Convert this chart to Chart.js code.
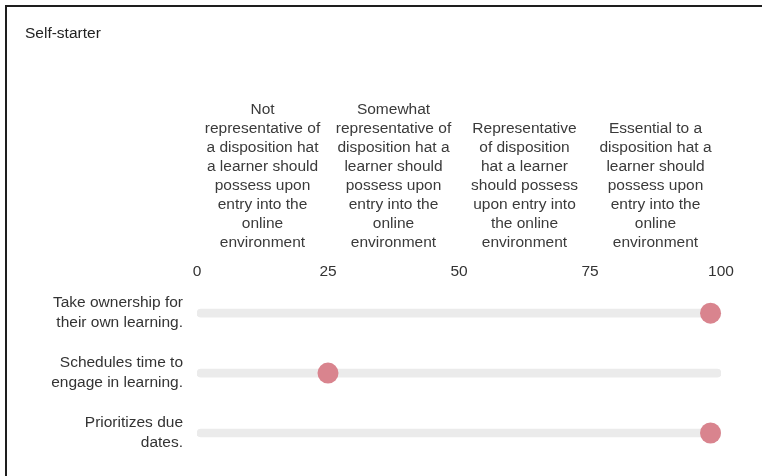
<!DOCTYPE html>
<html>
<head>
<meta charset="utf-8">
<script src="https://cdn.jsdelivr.net/npm/chart.js@4/dist/chart.umd.min.js"></script>
<style>
  html, body { margin: 0; padding: 0; background: #fff; }
  #frame {
    position: absolute; left: 5px; top: 5px;
    width: 755px; height: 469px;
    border-left: 2px solid #1e1e1e; border-top: 2px solid #1e1e1e;
  }
</style>
</head>
<body>
<div id="frame"><canvas id="myChart"></canvas></div>
<script>
  // Rows (statements) and their rating on a 0-100 scale
  const statements = [
    ["Take ownership for", "their own learning."],
    ["Schedules time to", "engage in learning."],
    ["Prioritizes due", "dates."],
  ];
  const ratings = [98, 25, 98];

  // Column headers along the top
  const scaleHeaders = [
    ["Not", "representative of", "a disposition hat", "a learner should", "possess upon", "entry into the", "online", "environment"],
    ["Somewhat", "representative of", "disposition hat a", "learner should", "possess upon", "entry into the", "online", "environment"],
    ["Representative", "of disposition", "hat a learner", "should possess", "upon entry into", "the online", "environment"],
    ["Essential to a", "disposition hat a", "learner should", "possess upon", "entry into the", "online", "environment"],
  ];
  const scaleMin = 0;
  const scaleMax = 100;
  const scaleStep = 25;

  const fontFamily = "'Liberation Sans', Arial, Helvetica, sans-serif";

  const ctx = document.getElementById("myChart");
  new Chart(ctx, {
    type: "bar",
    data: {
      labels: statements,
      datasets: [
        {
          // slider track for every row
          type: "bar",
          data: statements.map(() => [scaleMin, scaleMax]),
          backgroundColor: "#ebebeb",
          barThickness: 8,
          borderRadius: 4,
          borderSkipped: false,
          xAxisID: "x",
          yAxisID: "y",
          order: 2,
        },
        {
          type: "line",
          indexAxis: "y",
          data: ratings.map((v, i) => ({ x: v, y: statements[i] })),
          showLine: false,
          pointRadius: 10.5,
          pointHoverRadius: 10.5,
          pointBackgroundColor: "#d9848e",
          pointBorderWidth: 0,
          clip: false,
          xAxisID: "x",
          yAxisID: "y",
          order: 1,
        },
      ],
    },
    options: {
      indexAxis: "y",
      responsive: true,
      maintainAspectRatio: false,
      animation: false,
      layout: { padding: { left: 18, right: 41, top: 0, bottom: 13 } },
      plugins: {
        legend: { display: false },
        tooltip: { enabled: false },
        title: {
          display: true,
          text: "Self-starter",
          align: "start",
          color: "#222",
          font: { family: fontFamily, size: 15.5, weight: "normal" },
          padding: { top: 17, bottom: 51 },
        },
      },
      scales: {
        x: {
          type: "linear",
          position: "top",
          min: scaleMin,
          max: scaleMax,
          weight: 0,
          grid: { display: false, drawTicks: false },
          border: { display: false },
          ticks: {
            stepSize: scaleStep,
            padding: 2.5,
            color: "#333",
            font: { family: fontFamily, size: 15.5 },
          },
        },
        xTop: {
          type: "category",
          position: "top",
          labels: scaleHeaders,
          offset: true,
          weight: 1,
          grid: { display: false, drawTicks: false },
          border: { display: false },
          ticks: {
            padding: 7,
            autoSkip: false,
            maxRotation: 0,
            color: "#3a3a3a",
            font: { family: fontFamily, size: 15.5, lineHeight: "19px" },
          },
        },
        y: {
          type: "category",
          offset: true,
          grid: { display: false, drawTicks: false },
          border: { display: false },
          afterFit: (axis) => {
            axis.width = 172;
            // labels sit inside the offset band, no extra room needed
            axis.paddingTop = 0;
            axis.paddingBottom = 0;
          },
          ticks: {
            padding: 14,
            color: "#333",
            font: { family: fontFamily, size: 15.5, lineHeight: "20px" },
          },
        },
      },
    },
  });
</script>
</body>
</html>
